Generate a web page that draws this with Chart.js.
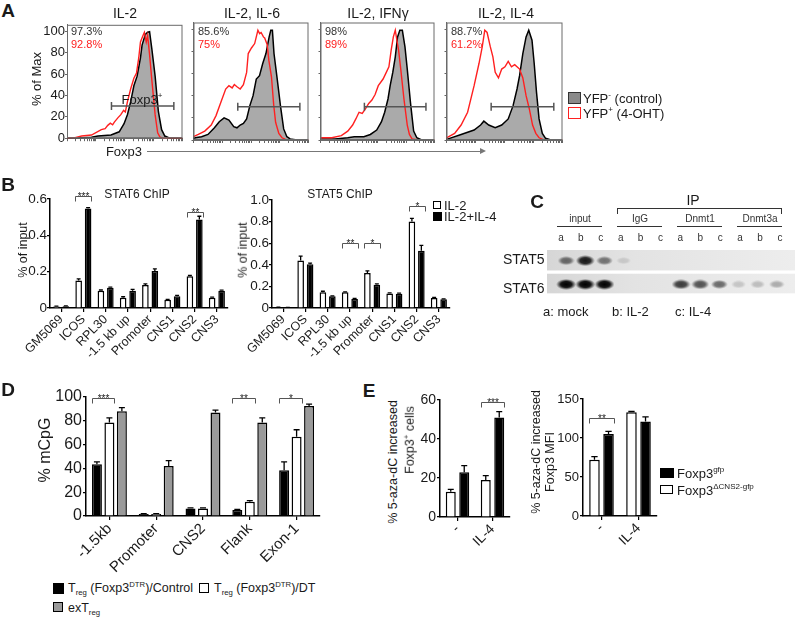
<!DOCTYPE html>
<html>
<head>
<meta charset="utf-8">
<title>Foxp3 figure</title>
<script src="https://cdn.jsdelivr.net/npm/chart.js@4.4.1/dist/chart.umd.min.js"></script>
<style>
  body { margin: 0; background: #fff; }
  #fig { position: relative; width: 800px; height: 618px; overflow: hidden; background: #fff;
         font-family: 'Liberation Sans', Arial, sans-serif; color: #1a1a1a; }
  #fig canvas { position: absolute; }
  .t { position: absolute; white-space: nowrap; line-height: 1; }
  .t sup, .t sub { font-size: 0.62em; line-height: 0; }
</style>
</head>
<body>
<div id="fig"></div>
<script>
// ---- A: histogramas [canal Foxp3 (% del eje), % of Max]
const il2_ctrl = [[0,0],[12.7,0.5],[21.2,1],[26.8,2],[38.1,3],[45.2,6],[49.4,13.5],[52.3,22],[55.1,34],[57.9,49],[60.7,58],[63.6,75],[65,87],[67.8,97],[69.8,99],[71.5,99.5],[73.4,84],[76.3,58],[79.1,25],[81.9,8],[84.7,2],[89,0],[100,0]]
const il2_oht = [[0,0],[7,0.5],[12.7,2],[21.2,3],[29.7,8],[33,9],[35.3,12],[37.5,14],[39.5,12.5],[41,15],[44,19],[46.6,22],[49,26],[50.5,24.5],[52.3,34],[55.1,46],[57.9,56],[60.2,61],[62.1,75],[63.6,90],[65.8,96],[67,99],[68.6,90],[69.8,96],[71.5,78],[73.4,55],[76.3,22],[78.5,5],[80.5,1],[83.3,0],[100,0]]
const il6_ctrl = [[0,1],[1.4,2],[7,3],[12.6,5],[18.2,11],[22.4,16.5],[26.6,20],[30.8,18],[35,12],[37.8,11],[40.6,13.5],[43.4,15],[46.2,19],[49,31],[51.8,40],[54.6,55],[57.4,58],[60.2,69],[63,78],[65.8,93],[67.2,99],[68.6,99],[70,78],[72.8,55],[75.6,31],[78.4,10],[81.2,3],[84,1],[90,0],[100,0]]
const il6_oht = [[0,3],[4.2,5],[9.8,8],[15.4,13.5],[19.6,22],[23.8,34],[28,46],[30.8,49],[33.6,47],[35.5,50],[37.8,48],[40.6,46],[43.4,50],[46.2,61],[47.6,78],[50.4,83],[53.2,87],[56,99],[57.5,96],[58.8,97],[60.8,93],[61.9,92],[64.1,86],[65.5,72],[67.8,57],[69.7,32],[71.4,16],[74.2,6],[77,2],[80,0.5],[86,0],[100,0]]
const ifng_ctrl = [[0,1],[12.7,1],[23.9,2],[29.6,3],[38,3],[43.7,5],[49.3,9],[53.5,16.5],[56.3,25],[59.2,37],[61.1,49],[63.4,61],[65.6,75],[67.6,93],[69.6,99],[71.8,99],[74.1,84],[76.1,64],[78.9,34],[81.7,8],[84.5,2],[88.7,0],[100,0]]
const ifng_oht = [[0,2],[9.9,2],[18.3,4],[23.9,8],[28.2,13.5],[31,19],[33.8,25],[36.6,24],[39.4,28],[42.3,33],[45.1,36],[47.9,41],[50.7,49],[54.9,55],[57.7,61],[60,66],[62,81],[63.9,93],[65.6,99],[67,90],[68.5,81],[70.4,64],[73.2,37],[76.1,13.5],[78,5],[80.3,1],[85.9,0],[100,0]]
const il4_ctrl = [[0,0.5],[1.4,1],[12.6,5],[23.8,9],[29.4,13.5],[32.2,17],[36.4,13.5],[42,11],[47.6,13.5],[53.2,19],[57.4,31],[60.8,46],[63,58],[65.8,78],[68.6,93],[70.9,99],[73.7,90],[75.6,69],[77.6,43],[79.8,19],[82.6,6],[85.4,1.5],[90,0],[100,0]]
const il4_oht = [[0,2],[7,6],[12.6,13.5],[18.2,25],[23.8,49],[28,69],[30.8,84],[33,99],[35,97],[37.8,84],[40,75],[42,61],[44.8,56],[47.6,64],[50.4,66],[53.2,71],[56,66],[58.8,68],[63,64],[65.8,56],[68.6,40],[71.4,28],[74.2,13.5],[77,6],[79.8,2],[84,0],[100,0]]
const gate_x = [38.5, 92.5]
const gate_y = 30
const max_ticks = [0, 20, 40, 60, 80, 100]

// ---- B: ChIP
const chip_sites = ['GM5069', 'ICOS', 'RPL30', '-1.5 kb up', 'Promoter', 'CNS1', 'CNS2', 'CNS3']
const stat6_il2 = [0.008, 0.152, 0.095, 0.057, 0.127, 0.045, 0.175, 0.057]
const stat6_il2_err = [0.002, 0.008, 0.004, 0.005, 0.006, 0.003, 0.004, 0.003]
const stat6_il4 = [0.01, 0.548, 0.112, 0.095, 0.203, 0.065, 0.487, 0.095]
const stat6_il4_err = [0.002, 0.004, 0.003, 0.008, 0.012, 0.004, 0.018, 0.003]
const stat5_il2 = [0.005, 0.44, 0.145, 0.145, 0.323, 0.135, 0.80, 0.092]
const stat5_il2_err = [0.002, 0.04, 0.01, 0.005, 0.02, 0.005, 0.03, 0.005]
const stat5_il4 = [0.003, 0.405, 0.108, 0.083, 0.215, 0.132, 0.53, 0.08]
const stat5_il4_err = [0.002, 0.01, 0.005, 0.005, 0.008, 0.005, 0.05, 0.005]
const stat6_sig = [{ group: 1, level: 0.615, mark: '***' }, { group: 6, level: 0.53, mark: '**' }]
const stat5_sig = [{ group: 3, level: 0.6, mark: '**' }, { group: 4, level: 0.6, mark: '*' }, { group: 6, level: 0.94, mark: '*' }]

// ---- C: western (intensidad relativa de banda por carril)
const lanes = [1, 2, 3, 4, 5, 6, 7, 8, 9, 10, 11, 12]
const lane_letters = ['a', 'b', 'c', 'a', 'b', 'c', 'a', 'b', 'c', 'a', 'b', 'c']
const stat5_bands = [0.55, 0.9, 0.5, 0.12, 0, 0, 0, 0, 0, 0, 0, 0]
const stat6_bands = [1, 1, 1, 0, 0, 0, 0.75, 0.65, 0.55, 0.16, 0.2, 0.28]

// ---- D: metilacion
const cpg_regions = ['-1.5kb', 'Promoter', 'CNS2', 'Flank', 'Exon-1']
const treg_ctrl = [43.5, 1.7, 6.4, 5, 38.5]
const treg_ctrl_err = [2, 0.3, 0.5, 0.5, 7]
const treg_dt = [78.5, 1.7, 6.4, 12, 66.5]
const treg_dt_err = [4, 0.3, 0.5, 1, 6]
const ex_treg = [88, 42, 87, 78.5, 92.5]
const ex_treg_err = [3, 4.5, 2, 4, 1.5]
const cpg_sig = [{ group: 0, level: 99, mark: '***' }, { group: 3, level: 99, mark: '**' }, { group: 4, level: 99, mark: '*' }]

// ---- E: 5-aza-dC
const aza_groups = ['-', 'IL-4']
const cells_cns2 = [13, 19]
const cells_cns2_err = [1.2, 2.2]
const cells_gfp = [23, 51]
const cells_gfp_err = [3.3, 3]
const mfi_cns2 = [72, 133]
const mfi_cns2_err = [4, 1]
const mfi_gfp = [105, 121]
const mfi_gfp_err = [3.5, 6]
const cells_sig = [{ group: 1, level: 59, mark: '***' }]
const mfi_sig = [{ group: 0, level: 125, mark: '**' }]

Chart.defaults.font.family = "'Liberation Sans', Arial, sans-serif"
Chart.defaults.color = '#1a1a1a'
Chart.defaults.animation = false
Chart.defaults.plugins.legend.display = false
Chart.defaults.plugins.tooltip.enabled = false

const fig = document.getElementById('fig')

// canvas colocado para que el area del grafico caiga en (L,T)-(R,B)
function area(L, T, R, B, pl, pt, pr, pb) {
    let cv = document.createElement('canvas')
    cv.width = R - L + pl + pr
    cv.height = B - T + pt + pb
    cv.style.left = (L - pl) + 'px'
    cv.style.top = (T - pt) + 'px'
    fig.appendChild(cv)
    return { cv: cv, yw: pl, xh: pb, pad: { top: pt, right: pr, left: 0, bottom: 0 } }
}

function put(html, x, y, css, tf) {
    let d = document.createElement('div')
    d.className = 't'
    d.innerHTML = html
    d.style.cssText = 'left:' + x + 'px;top:' + y + 'px;' + (css || '')
    d.style.transform = tf || 'translate(-50%,-50%)'
    fig.appendChild(d)
    return d
}

const box_frame = {
    id: 'box_frame',
    afterDraw(chart) {
        let a = chart.chartArea, c = chart.ctx
        c.save()
        c.strokeStyle = '#6a6a6a'
        c.lineWidth = 1
        c.strokeRect(a.left + 0.5, a.top + 0.5, a.right - a.left - 1, a.bottom - a.top - 1)
        c.restore()
    }
}

const error_bars = {
    id: 'error_bars',
    afterDatasetsDraw(chart) {
        let c = chart.ctx, y = chart.scales.y
        chart.data.datasets.forEach((ds, i) => {
            if (!ds.errors) return
            chart.getDatasetMeta(i).data.forEach((bar, j) => {
                let top = y.getPixelForValue(ds.data[j] + ds.errors[j])
                let w = bar.width * 0.3
                c.save()
                c.strokeStyle = '#000'
                c.lineWidth = 1.3
                c.beginPath()
                c.moveTo(bar.x, bar.y)
                c.lineTo(bar.x, top)
                c.moveTo(bar.x - w, top)
                c.lineTo(bar.x + w, top)
                c.stroke()
                c.restore()
            })
        })
    }
}

const sig_brackets = {
    id: 'sig_brackets',
    afterDatasetsDraw(chart, args, opts) {
        let c = chart.ctx, y = chart.scales.y
        ;(opts.items || []).forEach(b => {
            let p = chart.getDatasetMeta(0).data[b.group]
            let q = chart.getDatasetMeta(1).data[b.group]
            let x1 = Math.round(p.x - p.width / 2) + 0.5
            let x2 = Math.round(q.x + q.width / 2) + 0.5
            let yy = Math.round(y.getPixelForValue(b.level)) + 0.5
            c.save()
            c.strokeStyle = '#555'
            c.lineWidth = 1
            c.beginPath()
            c.moveTo(x1, yy + 5)
            c.lineTo(x1, yy)
            c.lineTo(x2, yy)
            c.lineTo(x2, yy + 5)
            c.stroke()
            c.fillStyle = '#222'
            c.font = "10px 'Liberation Sans', Arial"
            c.textAlign = 'center'
            c.textBaseline = 'alphabetic'
            c.fillText(b.mark, (x1 + x2) / 2, yy + 3)
            c.restore()
        })
    }
}

const log_ticks = []
for (let d = 0; d < 4; d++) for (let k = 1; k < 10; k++) log_ticks.push(d * 25 + 25 * Math.log10(k))
log_ticks.push(100)

// histograma de citometria
function create_histogram(L, R, ctrl, oht, show_y) {
    let b = area(L, 20, R, 140, show_y ? 37 : 5, 3, 3, 6)
    return new Chart(b.cv, {
        type: 'line',
        data: {
            datasets: [
                { data: gate_x.map(x => ({ x: x, y: gate_y })), borderColor: '#555', borderWidth: 1.5,
                  pointStyle: 'line', rotation: 90, pointRadius: 4, pointBorderWidth: 1.5, pointBorderColor: '#555' },
                { data: oht.map(p => ({ x: p[0], y: p[1] })), borderColor: '#ff2020', borderWidth: 1.4,
                  fill: false, pointRadius: 0, tension: 0 },
                { data: ctrl.map(p => ({ x: p[0], y: p[1] })), borderColor: '#000', borderWidth: 1.5,
                  backgroundColor: '#aaaaaa', fill: 'origin', pointRadius: 0, tension: 0 },
            ]
        },
        options: {
            responsive: false, devicePixelRatio: 1,
            layout: { padding: b.pad },
            scales: {
                x: {
                    type: 'linear', min: 0, max: 100,
                    afterFit: s => { s.height = b.xh },
                    afterBuildTicks: s => { s.ticks = log_ticks.map(v => ({ value: v })) },
                    ticks: { display: false },
                    grid: { drawOnChartArea: false, tickLength: 3, color: '#666' },
                    border: { color: '#6a6a6a' }
                },
                y: {
                    min: 0, max: 106,
                    afterFit: s => { s.width = b.yw },
                    afterBuildTicks: s => { s.ticks = max_ticks.map(v => ({ value: v })) },
                    ticks: { display: show_y, font: { size: 13 }, color: '#1a1a1a', padding: 0 },
                    grid: { drawOnChartArea: false, tickLength: 2, color: '#666' },
                    border: { color: '#6a6a6a' }
                }
            }
        },
        plugins: [box_frame]
    })
}

// grafico de barras estilo prism
function create_bar_chart(b, labels, sets, y_opts, sig, cat_pct, bar_pct, label_size) {
    return new Chart(b.cv, {
        type: 'bar',
        data: {
            labels: labels,
            datasets: sets.map(s => ({
                data: s.data, errors: s.err, backgroundColor: s.fill, borderColor: '#000', borderWidth: 1.5,
                categoryPercentage: cat_pct, barPercentage: bar_pct
            }))
        },
        options: {
            responsive: false, devicePixelRatio: 1,
            layout: { padding: b.pad },
            scales: {
                x: {
                    afterFit: s => { s.height = b.xh },
                    grid: { offset: false, drawOnChartArea: false, tickLength: 4, color: '#000', lineWidth: 1.2 },
                    border: { color: '#000', width: 1.5 },
                    ticks: { minRotation: 45, maxRotation: 45, autoSkip: false, font: { size: label_size }, color: '#1a1a1a', padding: 0 }
                },
                y: {
                    min: 0, max: y_opts.max,
                    afterFit: s => { s.width = b.yw },
                    ticks: { stepSize: y_opts.step, font: { size: y_opts.font }, color: '#1a1a1a', padding: y_opts.pad, callback: y_opts.fmt },
                    grid: { drawOnChartArea: false, tickLength: 3, color: '#000', lineWidth: 1.2 },
                    border: { color: '#000', width: 1.5 }
                }
            },
            plugins: { sig_brackets: { items: sig } }
        },
        plugins: [error_bars, sig_brackets]
    })
}

const dec1 = v => v === 0 ? '0' : v.toFixed(1)

// ---------- A
create_histogram(67, 185, il2_ctrl, il2_oht, true)
create_histogram(193, 311, il6_ctrl, il6_oht, false)
create_histogram(320, 437, ifng_ctrl, ifng_oht, false)
create_histogram(446, 565, il4_ctrl, il4_oht, false)

// ---------- B
create_bar_chart(area(50, 199, 228, 308, 50, 12, 6, 62), chip_sites,
    [{ data: stat6_il2, err: stat6_il2_err, fill: '#fff' }, { data: stat6_il4, err: stat6_il4_err, fill: '#000' }],
    { max: 0.6, step: 0.2, font: 13.5, pad: 0, fmt: dec1 }, stat6_sig, 0.85, 0.7, 12.5)
create_bar_chart(area(272, 200, 450, 308, 37, 13, 6, 62), chip_sites,
    [{ data: stat5_il2, err: stat5_il2_err, fill: '#fff' }, { data: stat5_il4, err: stat5_il4_err, fill: '#000' }],
    { max: 1.0, step: 0.2, font: 13.5, pad: 0, fmt: dec1 }, stat5_sig, 0.85, 0.7, 12.5)

// ---------- C
const band_cache = {}
function band_img(v) {
    if (band_cache[v]) return band_cache[v]
    let w = Math.round(14 + 6 * v), h = Math.round(7 + 4 * v)
    let c = document.createElement('canvas')
    c.width = w
    c.height = h
    let g = c.getContext('2d')
    if (v > 0) {
        g.translate(w / 2, h / 2)
        g.scale(1, h / w)
        let gr = g.createRadialGradient(0, 0, 0, 0, 0, w / 2)
        gr.addColorStop(0, 'rgba(0,0,0,' + v + ')')
        gr.addColorStop(0.55, 'rgba(0,0,0,' + (v * 0.9) + ')')
        gr.addColorStop(1, 'rgba(0,0,0,0)')
        g.fillStyle = gr
        g.beginPath()
        g.arc(0, 0, w / 2, 0, Math.PI * 2)
        g.fill()
    }
    band_cache[v] = c
    return c
}
const blot_strips = {
    id: 'blot_strips',
    beforeDatasetsDraw(chart) {
        let c = chart.ctx, a = chart.chartArea, y = chart.scales.y
        ;[[1.45, 0.586], [0.448, -0.38]].forEach(r => {
            let y1 = y.getPixelForValue(r[0]), y2 = y.getPixelForValue(r[1])
            let gr = c.createLinearGradient(a.left, 0, a.right, 0)
            gr.addColorStop(0, '#d6d6d6')
            gr.addColorStop(0.35, '#e3e3e3')
            gr.addColorStop(1, '#ededed')
            c.fillStyle = gr
            c.fillRect(a.left, y1, a.right - a.left, y2 - y1)
        })
    }
}
let cb = area(542, 245, 800, 300, 0, 0, 0, 0)
new Chart(cb.cv, {
    type: 'scatter',
    data: {
        datasets: [
            { data: lanes.map(l => ({ x: l, y: 1 })), pointStyle: ctx => band_img(stat5_bands[ctx.dataIndex]) },
            { data: lanes.map(l => ({ x: l, y: 0 })), pointStyle: ctx => band_img(stat6_bands[ctx.dataIndex]) }
        ]
    },
    options: {
        responsive: false, devicePixelRatio: 1,
        layout: { padding: 0 },
        scales: { x: { display: false, min: 0, max: 12.95 }, y: { display: false, min: -0.45, max: 1.45 } }
    },
    plugins: [blot_strips]
})

// ---------- D
create_bar_chart(area(86, 397, 320, 516, 86, 12, 8, 60), cpg_regions,
    [{ data: treg_ctrl, err: treg_ctrl_err, fill: '#000' }, { data: treg_dt, err: treg_dt_err, fill: '#fff' },
     { data: ex_treg, err: ex_treg_err, fill: '#9a9a9a' }],
    { max: 100, step: 20, font: 16, pad: 1 }, cpg_sig, 0.8, 0.8, 15)

// ---------- E
create_bar_chart(area(440, 400, 510, 517, 35, 10, 5, 33), aza_groups,
    [{ data: cells_cns2, err: cells_cns2_err, fill: '#fff' }, { data: cells_gfp, err: cells_gfp_err, fill: '#000' }],
    { max: 60, step: 20, font: 14, pad: 1 }, cells_sig, 0.77, 0.74, 14)
create_bar_chart(area(583, 399, 657, 516, 43, 9, 5, 34), aza_groups,
    [{ data: mfi_cns2, err: mfi_cns2_err, fill: '#fff' }, { data: mfi_gfp, err: mfi_gfp_err, fill: '#000' }],
    { max: 150, step: 50, font: 13, pad: 1 }, mfi_sig, 0.76, 0.75, 14)

// ---------- textos
const bold = 'font-weight:bold;font-size:19px;'
const left_mid = 'translate(0,-50%)'
const rot = 'translate(-50%,-50%) rotate(-90deg)'

put('A', 8, 10, bold)
put('IL-2', 125, 13, 'font-size:14px')
put('IL-2, IL-6', 252, 13, 'font-size:14px')
put('IL-2, IFNγ', 378, 13, 'font-size:14px')
put('IL-2, IL-4', 506, 13, 'font-size:14px')
const pct = [[71, '97.3%', '92.8%'], [198, '85.6%', '75%'], [325, '98%', '89%'], [451, '88.7%', '61.2%']]
pct.forEach(p => {
    put(p[1], p[0], 31, 'font-size:11px;color:#333', left_mid)
    put(p[2], p[0], 44, 'font-size:11px;color:#ff2020', left_mid)
})
put('% of Max', 36, 79, 'font-size:13px', rot)
put('Foxp3<sup>+</sup>', 142, 99, 'font-size:13px')
put('Foxp3', 124, 151, 'font-size:13px')
put('', 147, 151, 'width:334px;height:1px;background:#777', 'none')
put('', 480, 148, 'width:0;height:0;border-left:6px solid #777;border-top:3px solid transparent;border-bottom:3px solid transparent', 'none')
put('', 568, 92, 'width:11px;height:10px;background:#8a8a8a;border:1px solid #333', 'none')
put('YFP<sup>-</sup> (control)', 583, 98, 'font-size:13px', left_mid)
put('', 568, 107, 'width:11px;height:10px;background:#fff;border:1px solid #ff2020', 'none')
put('YFP<sup>+</sup> (4-OHT)', 583, 113, 'font-size:13px', left_mid)

put('B', 8, 184, bold)
put('STAT6 ChIP', 137, 194, 'font-size:12px')
put('STAT5 ChIP', 340, 194, 'font-size:12px')
put('% of input', 23, 250, 'font-size:12.5px', rot)
put('% of input', 243, 250, 'font-size:12.5px', rot)
put('', 433, 201, 'width:6px;height:6px;background:#fff;border:1.5px solid #000', 'none')
put('IL-2', 444, 205, 'font-size:13px', left_mid)
put('', 433, 212, 'width:9px;height:9px;background:#000', 'none')
put('IL-2+IL-4', 444, 216, 'font-size:13px', left_mid)

put('C', 537, 201, bold)
put('IP', 693, 200, 'font-size:14px')
put('', 617, 208, 'width:163px;height:5px;border:1px solid #333;border-bottom:none', 'none')
const blot_groups = [['input', 557], ['IgG', 617], ['Dnmt1', 677], ['Dnmt3a', 737]]
blot_groups.forEach(g => {
    put(g[0], g[1] + 23, 219, 'font-size:10px;color:#333')
    put('', g[1], 226, 'width:45px;height:1px;background:#333', 'none')
})
lanes.forEach((l, i) => put(lane_letters[i], 561 + 19.9 * (l - 1), 238, 'font-size:10px;color:#333'))
put('STAT5', 503, 259, 'font-size:14px', left_mid)
put('STAT6', 503, 288, 'font-size:14px', left_mid)
put('a: mock', 543, 311, 'font-size:13px', left_mid)
put('b: IL-2', 612, 311, 'font-size:13px', left_mid)
put('c: IL-4', 675, 311, 'font-size:13px', left_mid)

put('D', 8, 389, bold)
put('% mCpG', 45, 450, 'font-size:16px', rot)
put('', 53, 583, 'width:11px;height:11px;background:#000', 'none')
put('T<sub>reg</sub> (Foxp3<sup>DTR</sup>)/Control', 68, 588, 'font-size:12.5px', left_mid)
put('', 199, 583, 'width:8px;height:8px;background:#fff;border:1.5px solid #000', 'none')
put('T<sub>reg</sub> (Foxp3<sup>DTR</sup>)/DT', 214, 588, 'font-size:12.5px', left_mid)
put('', 53, 602, 'width:8px;height:8px;background:#9a9a9a;border:1.5px solid #000', 'none')
put('exT<sub>reg</sub>', 68, 608, 'font-size:12.5px', left_mid)

put('E', 369, 390, bold)
put('% 5-aza-dC increased', 393, 462, 'font-size:12.5px', rot)
put('Foxp3<sup>+</sup> cells', 410, 440, 'font-size:12.5px', rot)
put('% 5-aza-dC increased', 536, 452, 'font-size:12.5px', rot)
put('Foxp3 MFI', 550, 462, 'font-size:12.5px', rot)
put('', 660, 468, 'width:14px;height:10px;background:#000', 'none')
put('Foxp3<sup>gfp</sup>', 677, 473, 'font-size:13px', left_mid)
put('', 660, 485, 'width:11px;height:7px;background:#fff;border:1.5px solid #000', 'none')
put('Foxp3<sup>ΔCNS2-gfp</sup>', 677, 490, 'font-size:13px', left_mid)
</script>
</body>
</html>
